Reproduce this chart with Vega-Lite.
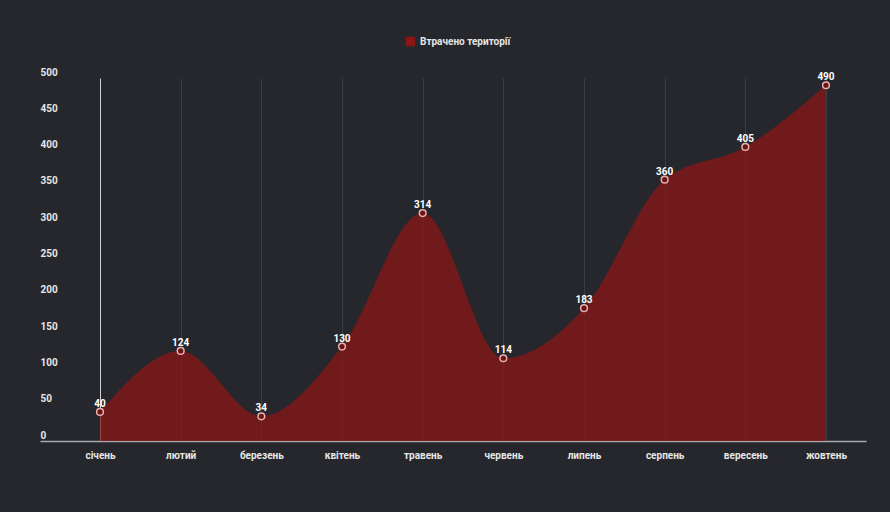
{
  "$schema": "https://vega.github.io/schema/vega-lite/v6.json",
  "width": 826,
  "height": 363,
  "autosize": "none",
  "padding": {"left": 40, "top": 78, "right": 24, "bottom": 71},
  "background": "#25272d",
  "config": {
    "view": {"stroke": null},
    "font": "Roboto",
    "axis": {"labelFont": "Roboto", "labelColor": "#e6e6e6", "labelFontSize": 10, "labelFontWeight": "bold"},
    "legend": {"labelFont": "Roboto", "labelColor": "#e6e6e6", "labelFontSize": 10, "labelFontWeight": "bold"}
  },
  "data": {
    "values": [
      {"month": "січень", "value": 40},
      {"month": "лютий", "value": 124},
      {"month": "березень", "value": 34},
      {"month": "квітень", "value": 130},
      {"month": "травень", "value": 314},
      {"month": "червень", "value": 114},
      {"month": "липень", "value": 183},
      {"month": "серпень", "value": 360},
      {"month": "вересень", "value": 405},
      {"month": "жовтень", "value": 490}
    ]
  },
  "encoding": {
    "x": {
      "field": "month",
      "type": "ordinal",
      "sort": null,
      "scale": {"type": "point", "padding": 0.62, "align": 0.6},
      "axis": {
        "title": null,
        "labelAngle": 0,
        "ticks": false,
        "labelPadding": 9,
        "domain": true,
        "domainColor": "#a9a9ad",
        "domainWidth": 1.5,
        "grid": true,
        "gridColor": {"condition": {"test": "datum.value === 'січень'", "value": "#d0d0d4"}, "value": "#3a3d44"},
        "gridWidth": 1
      }
    },
    "y": {
      "field": "value",
      "type": "quantitative",
      "scale": {"domain": [0, 500]},
      "axis": {
        "title": null,
        "values": [0, 50, 100, 150, 200, 250, 300, 350, 400, 450, 500],
        "domain": false,
        "ticks": false,
        "grid": false,
        "labelAlign": "left",
        "labelBaseline": "bottom",
        "labelPadding": 0,
        "labelOffset": -1
      }
    }
  },
  "layer": [
    {
      "mark": {"type": "area", "interpolate": "monotone", "opacity": 0.74},
      "encoding": {
        "color": {
          "datum": "Втрачено території",
          "type": "nominal",
          "scale": {"range": ["#8b1515"]},
          "legend": {
            "title": null,
            "orient": "none",
            "legendX": 365,
            "legendY": -42,
            "symbolType": "square",
            "symbolSize": 90,
            "symbolOpacity": 1
          }
        }
      }
    },
    {
      "mark": {"type": "point", "shape": "circle", "filled": true, "size": 45, "fill": "#6b1414", "stroke": "#eab0b0", "strokeWidth": 1.5, "opacity": 1}
    },
    {
      "mark": {"type": "text", "dy": -8, "color": "#ffffff", "fontSize": 10, "fontWeight": "bold", "font": "Roboto"},
      "encoding": {"text": {"field": "value", "type": "quantitative"}}
    }
  ]
}
